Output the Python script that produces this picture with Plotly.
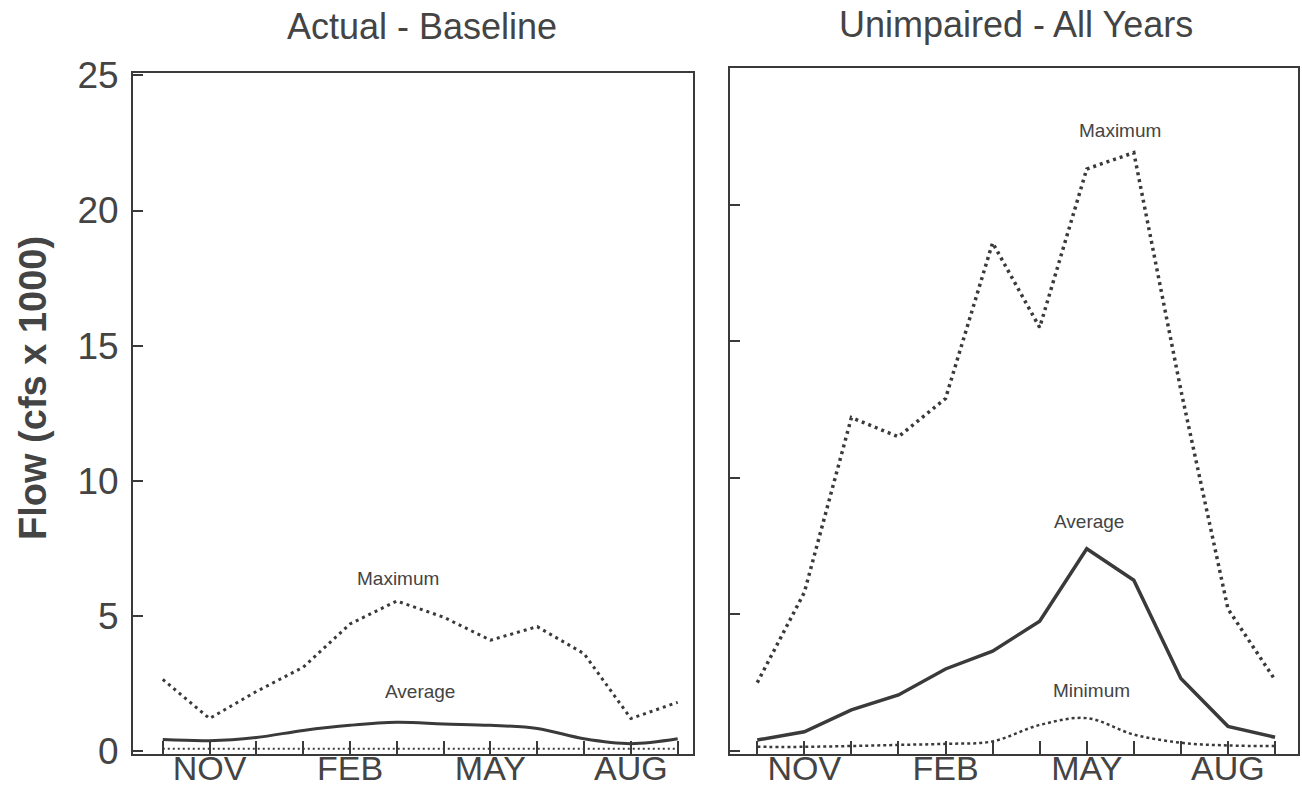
import plotly.graph_objects as go

months = ["OCT", "NOV", "DEC", "JAN", "FEB", "MAR", "APR", "MAY", "JUN", "JUL", "AUG", "SEP"]
tick_text = ["", "NOV", "", "", "FEB", "", "", "MAY", "", "", "AUG", ""]

# Actual - Baseline (cfs x 1000)
actual_max = [2.65, 1.2, 2.2, 3.1, 4.7, 5.55, 4.95, 4.1, 4.6, 3.6, 1.2, 1.8]
actual_avg = [0.42, 0.38, 0.5, 0.76, 0.95, 1.06, 1.0, 0.95, 0.83, 0.45, 0.27, 0.45]
actual_min = [0.08, 0.08, 0.08, 0.09, 0.1, 0.1, 0.1, 0.1, 0.1, 0.09, 0.08, 0.08]

# Unimpaired - All Years (cfs x 1000)
unimp_max = [2.5, 5.8, 12.2, 11.5, 12.9, 18.6, 15.5, 21.3, 21.9, 13.2, 5.2, 2.6]
unimp_avg = [0.4, 0.7, 1.5, 2.05, 3.0, 3.65, 4.75, 7.4, 6.25, 2.65, 0.9, 0.5]
unimp_min = [0.15, 0.15, 0.18, 0.22, 0.26, 0.35, 0.95, 1.2, 0.6, 0.3, 0.2, 0.18]

x = list(range(len(months)))
INK = "#3a3a3a"
FONT = "Arial, Liberation Sans, sans-serif"

fig = go.Figure()

def add(y, xa, ya, dash, width, shape="linear"):
    fig.add_trace(go.Scatter(
        x=x, y=y, xaxis=xa, yaxis=ya, mode="lines",
        line=dict(color=INK, width=width, dash=dash, shape=shape),
        showlegend=False, hoverinfo="skip"))

add(actual_max, "x", "y", "3px,4px", 3)
add(actual_avg, "x", "y", "solid", 3, "spline")
add(actual_min, "x", "y", "2px,3px", 2)
add(unimp_max, "x2", "y2", "3px,4px", 3.5)
add(unimp_avg, "x2", "y2", "solid", 3.5)
add(unimp_min, "x2", "y2", "3px,3px", 2.5, "spline")

xcommon = dict(tickmode="array", tickvals=x, ticktext=tick_text, ticks="inside",
               ticklen=13, tickwidth=1.5, tickcolor=INK, showline=True, mirror=True,
               linecolor=INK, linewidth=1.5, showgrid=False, zeroline=False,
               ticklabelstandoff=-16,
               tickfont=dict(size=34, color="#444", family=FONT), fixedrange=True)
ycommon = dict(tickmode="array", tickvals=[0, 5, 10, 15, 20, 25], ticks="inside",
               ticklen=10, tickwidth=1.5, tickcolor=INK, showline=True, mirror=True,
               linecolor=INK, linewidth=1.5, showgrid=False, zeroline=False)

fig.update_layout(
    width=1302, height=790, margin=dict(l=0, r=0, t=0, b=0, autoexpand=False),
    paper_bgcolor="white", plot_bgcolor="white",
    xaxis=dict(domain=[0.102, 0.532], range=[-0.64, 11.32], anchor="y", **xcommon),
    yaxis=dict(domain=[0.046, 0.908], range=[-0.1, 25.1], anchor="x",
               tickfont=dict(size=37, color="#444", family=FONT), ticklabelstandoff=5,
               **ycommon),
    xaxis2=dict(domain=[0.561, 0.997], range=[-0.57, 11.49], anchor="y2", **xcommon),
    yaxis2=dict(domain=[0.046, 0.914], range=[-0.1, 25.0], anchor="x2",
                showticklabels=False, **ycommon),
)

ann = []
def label(text, xref, yref, xv, yv, size=19):
    ann.append(dict(text=text, xref=xref, yref=yref, x=xv, y=yv, showarrow=False,
                    xanchor="center", yanchor="middle",
                    font=dict(size=size, color="#444", family=FONT)))

label("Maximum", "x", "y", 5.02, 6.37)
label("Average", "x", "y", 5.5, 2.2)
label("Maximum", "x2", "y2", 7.7, 22.7)
label("Average", "x2", "y2", 7.05, 8.4)
label("Minimum", "x2", "y2", 7.1, 2.2)

def ptext(text, px, py, size, angle=0):
    ann.append(dict(text=text, xref="paper", yref="paper", x=px/1302, y=1-py/790,
                    xanchor="center", yanchor="middle", textangle=angle, showarrow=False,
                    font=dict(size=size, color="#444", family=FONT)))

ptext("Actual - Baseline", 422, 27, 36)
ptext("Unimpaired - All Years", 1016, 24, 36)
ptext("<b>Flow (cfs x 1000)</b>", 33, 388, 38, -90)
fig.update_layout(annotations=ann)

fig.write_html("out.html")
